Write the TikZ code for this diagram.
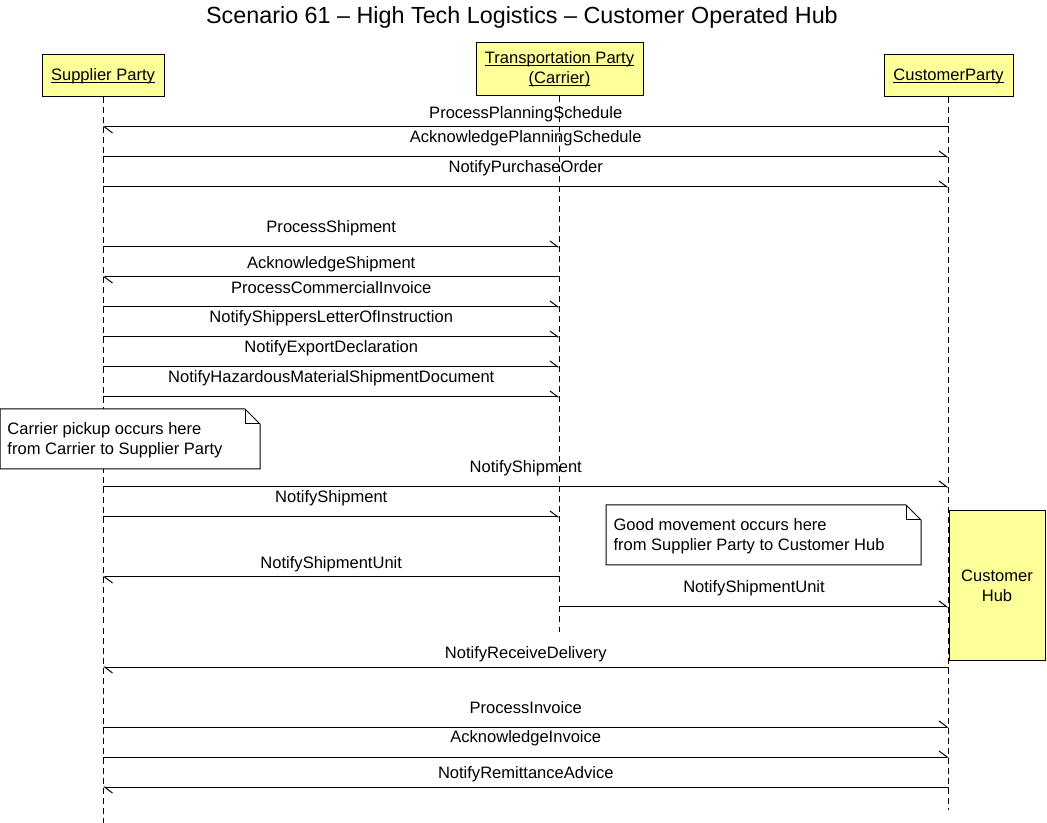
\documentclass[tikz,border=0pt]{standalone}
\usepackage{fontspec}
\setmainfont{Liberation Sans}
\usetikzlibrary{arrows.meta}
\definecolor{partyfill}{HTML}{FFFF99}
\newcommand{\ulname}[1]{\underline{\smash{#1}}\vphantom{#1}}

\begin{document}
\begin{tikzpicture}[x=0.75pt,y=-0.75pt,line width=0.75pt,
    party/.style={draw,fill=partyfill,align=center,inner sep=2pt,
      font=\fontsize{12.4}{15}\selectfont},
    life/.style={dash pattern=on 4.5pt off 3pt},
    msg/.style={-{Straight Barb[left,length=6pt,width=9pt]}},
    lbl/.style={inner sep=0pt,yshift=-1.5pt,font=\fontsize{12.4}{15}\selectfont},
    notetext/.style={anchor=west,align=left,inner sep=0pt,
      font=\fontsize{12.4}{15}\selectfont}]
  \useasboundingbox (0,0) rectangle (1047,823);
  \node[font=\fontsize{17.5}{21}\selectfont] (title) at (522,17)
    {Scenario 61 – High Tech Logistics – Customer Operated Hub};

  % parties
  \node[party,minimum width=91.5pt,minimum height=31.5pt] (sup) at (103,76)
    {\ulname{Supplier Party}};
  \node[party,minimum width=125.25pt,minimum height=39.75pt] (car) at (559.5,69.5)
    {\ulname{Transportation Party}\\\ulname{(Carrier)}};
  \node[party,minimum width=96.75pt,minimum height=31.5pt] (cus) at (948.5,76)
    {\ulname{CustomerParty}};

  % lifelines
  \draw[life] (sup.south) -- (sup |- 0,823);
  \draw[life] (car.south) -- (car |- 0,632);
  \draw[life] (cus.south) -- (cus |- 0,810);

  \node[party,minimum width=72pt,minimum height=111.75pt] (hub) at (997,585.5)
    {Customer\\Hub};

  % messages
  \foreach \y/\ly/\a/\b/\t in {
      127/112/cus/sup/ProcessPlanningSchedule,
      157/136/sup/cus/AcknowledgePlanningSchedule,
      187/166/sup/cus/NotifyPurchaseOrder,
      247/226/sup/car/ProcessShipment,
      277/262/car/sup/AcknowledgeShipment,
      307/286/sup/car/ProcessCommercialInvoice,
      337/316/sup/car/NotifyShippersLetterOfInstruction,
      367/346/sup/car/NotifyExportDeclaration,
      397/376/sup/car/NotifyHazardousMaterialShipmentDocument,
      487/466/sup/cus/NotifyShipment,
      517/496/sup/car/NotifyShipment,
      577/562/car/sup/NotifyShipmentUnit,
      607/586/car/cus/NotifyShipmentUnit,
      667/652/cus/sup/NotifyReceiveDelivery,
      727/706/sup/cus/ProcessInvoice,
      757/736/sup/cus/AcknowledgeInvoice,
      787/772/cus/sup/NotifyRemittanceAdvice}{
    \draw[msg] (\a |- 0,\y) -- (\b |- 0,\y);
    \path (\a |- 0,\ly) -- node[lbl] (m\y) {\t} (\b |- 0,\ly);
  }

  % notes
  \draw[fill=white] (0,409) -- (245,409) -- (260,424) -- (260,469) -- (0,469) -- cycle;
  \draw (245,409) |- (260,424);
  \node[notetext] (pickup) at (7,440)
    {Carrier pickup occurs here\\from Carrier to Supplier Party};

  \draw[fill=white] (606,505) -- (906,505) -- (921,520) -- (921,565) -- (606,565) -- cycle;
  \draw (906,505) |- (921,520);
  \node[notetext] (movement) at (613,536)
    {Good movement occurs here\\from Supplier Party to Customer Hub};
\end{tikzpicture}
\end{document}
